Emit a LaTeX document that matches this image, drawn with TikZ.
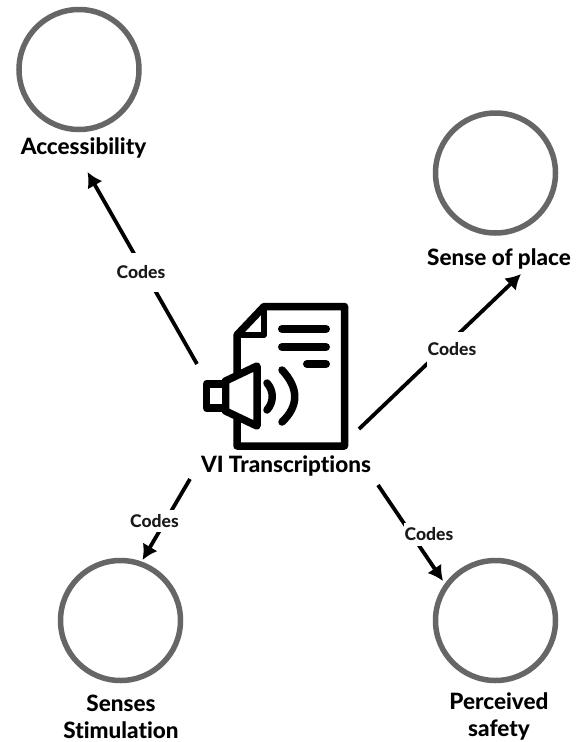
\documentclass[tikz,border=0pt]{standalone}
\usepackage{fontspec}
\setmainfont[Ligatures=NoCommon,BoldFont={Lato Heavy}]{Lato}
\usetikzlibrary{arrows.meta}
\definecolor{ringgray}{HTML}{666666}
\tikzset{
  ring/.style={circle,draw=ringgray,line width=5.5pt,minimum size=120pt,inner sep=0pt},
  title/.style={font=\fontsize{22.5}{27}\selectfont\bfseries,align=center,inner sep=0pt,text=black},
  codes/.style={font=\fontsize{17.5}{20}\selectfont\bfseries,fill=white,inner xsep=1pt,inner ysep=0pt,text=black!90},
  link/.style={draw=black,line width=3.8pt,-{Latex[length=15pt,width=17pt]}},
  ink/.style={draw=black,line width=7.5pt,line join=round,line cap=round},
}
\begin{document}
\begin{tikzpicture}[x=1pt,y=-1pt]
\useasboundingbox (0,0) rectangle (579,742);
\fill[white] (0,0) rectangle (579,742);
% rings
\node[ring] (acc) at (79,69.5) {};
\node[ring] (sop) at (495.5,173) {};
\node[ring] (sen) at (120.5,620.5) {};
\node[ring] (saf) at (495.5,620.5) {};
% titles
\node[title] (accT) at (83.5,148) {Accessibility};
\node[title] (sopT) at (499,259) {Sense of place};
\node[title] (senT) at (121,716.5) {Senses\\Stimulation};
\node[title] (safT) at (499,716.5) {Perceived\\safety};
\node[title] (vi) at (286,466) {VI Transcriptions};
% connector ends
\coordinate (aS) at (197,364);
\coordinate (aE) at (87.5,172);
\coordinate (bS) at (359,429);
\coordinate (bE) at (521,274);
\coordinate (cS) at (190,479);
\coordinate (cE) at (142.5,560);
\coordinate (dS) at (378,485);
\coordinate (dE) at (443,581);
\draw[link] (aS) -- (aE);
\draw[link] (bS) -- (bE);
\draw[link] (cS) -- (cE);
\draw[link] (dS) -- (dE);
\node[codes,minimum height=39pt] (la) at (141,272) {Codes};
\node[codes,minimum height=35pt] (lb) at (452,349.5) {Codes};
\node[codes,minimum height=22pt] (lc) at (154.5,521) {Codes};
\node[codes,minimum height=23pt] (ld) at (429,534) {Codes};
% document icon
\draw[ink] (237,375) -- (237,335) -- (264,306.5) -- (344.5,306.5) -- (344.5,446) -- (237,446) -- (237,415);
\draw[ink,line width=6pt] (264,306.5) -- (264,335) -- (237,335);
\draw[ink,line width=8pt] (282,329) -- (326,329);
\draw[ink,line width=8pt] (282,347) -- (326,347);
\draw[ink,line width=8pt] (307,364) -- (326,364);
% speaker
\draw[ink,fill=white] (225.5,381) -- (257,366) -- (257,426) -- (225.5,411) -- cycle;
\draw[ink,fill=white] (206.5,384) rectangle (225.5,408);
\draw[ink] (267,383) .. controls (274,391) and (274,402) .. (267,410);
\draw[ink] (282,370) .. controls (299,388) and (299,406) .. (282,422);
\end{tikzpicture}
\end{document}
